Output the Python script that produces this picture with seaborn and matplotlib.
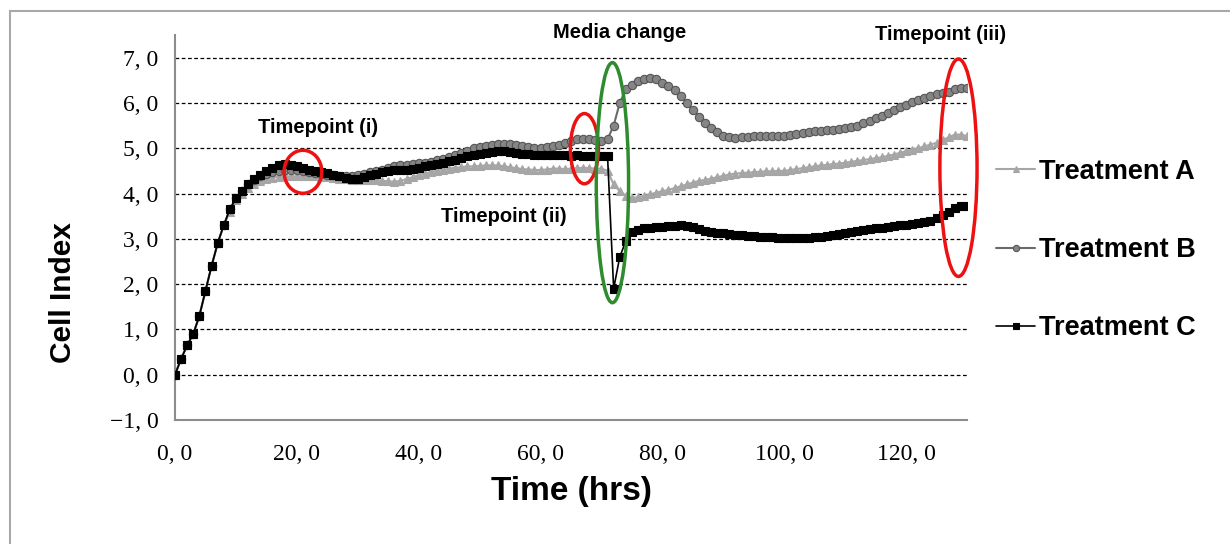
import numpy as np
import pandas as pd
import matplotlib
matplotlib.use("Agg")
import matplotlib.pyplot as plt
import seaborn as sns
from matplotlib.patches import Ellipse, Rectangle
from matplotlib.ticker import FuncFormatter

# ---------------- data ----------------
hours = list(range(0, 131))

treatment_c = [
    0.0, 0.35, 0.65, 0.9, 1.3, 1.85, 2.4, 2.9, 3.3, 3.65,
    3.9, 4.05, 4.2, 4.33, 4.42, 4.5, 4.57, 4.62, 4.65, 4.64,
    4.6, 4.56, 4.52, 4.5, 4.48, 4.45, 4.42, 4.38, 4.34, 4.32,
    4.33, 4.36, 4.4, 4.44, 4.47, 4.5, 4.52, 4.52, 4.53, 4.55,
    4.57, 4.6, 4.62, 4.65, 4.68, 4.72, 4.75, 4.78, 4.82, 4.85,
    4.88, 4.9, 4.92, 4.94, 4.93, 4.92, 4.9, 4.88, 4.87, 4.86,
    4.85, 4.85, 4.84, 4.85, 4.84, 4.83, 4.84, 4.83, 4.82, 4.82,
    4.82, 4.82, 1.9, 2.6, 2.95, 3.15, 3.2, 3.23, 3.25, 3.26,
    3.27, 3.28, 3.29, 3.3, 3.29, 3.26, 3.22, 3.18, 3.15, 3.13,
    3.12, 3.1, 3.09, 3.08, 3.07, 3.06, 3.05, 3.04, 3.03, 3.02,
    3.02, 3.01, 3.01, 3.01, 3.02, 3.03, 3.05, 3.07, 3.09, 3.11,
    3.13, 3.15, 3.17, 3.19, 3.21, 3.23, 3.25, 3.27, 3.29, 3.3,
    3.31, 3.33, 3.35, 3.37, 3.4, 3.45, 3.52, 3.6, 3.68, 3.72,
    3.73,
]

treatment_a = [
    0.0, 0.35, 0.65, 0.9, 1.3, 1.85, 2.4, 2.9, 3.3, 3.6,
    3.85, 4.0, 4.12, 4.2, 4.27, 4.32, 4.35, 4.37, 4.38, 4.38,
    4.38, 4.38, 4.38, 4.38, 4.37, 4.36, 4.35, 4.33, 4.32, 4.3,
    4.3, 4.3, 4.3, 4.3, 4.28, 4.27, 4.26, 4.28, 4.32, 4.36,
    4.4, 4.44, 4.47, 4.5, 4.52, 4.55, 4.57, 4.58, 4.6, 4.6,
    4.61, 4.62, 4.62, 4.62, 4.6, 4.58, 4.56, 4.54, 4.53, 4.52,
    4.52, 4.53, 4.55, 4.55, 4.54, 4.55, 4.56, 4.57, 4.56, 4.55,
    4.55, 4.5, 4.2, 4.05, 3.95, 3.9, 3.92, 3.95, 3.98, 4.02,
    4.05, 4.08, 4.12, 4.16, 4.2, 4.24, 4.28, 4.3, 4.33, 4.36,
    4.39, 4.42, 4.44, 4.45, 4.46, 4.47, 4.48, 4.49, 4.49, 4.5,
    4.5, 4.52, 4.54, 4.56, 4.58, 4.6, 4.62, 4.63, 4.65, 4.66,
    4.68, 4.7, 4.72, 4.74, 4.76, 4.78, 4.8, 4.83, 4.86, 4.9,
    4.93, 4.97, 5.0, 5.04, 5.08, 5.12, 5.18, 5.24, 5.3, 5.3,
    5.27,
]

treatment_b = [
    0.0, 0.35, 0.65, 0.9, 1.3, 1.85, 2.4, 2.9, 3.3, 3.65,
    3.9, 4.05, 4.2, 4.3, 4.38, 4.44, 4.48, 4.5, 4.52, 4.53,
    4.52, 4.5, 4.48, 4.46, 4.44, 4.42, 4.4, 4.38, 4.38, 4.38,
    4.4, 4.43, 4.47, 4.5, 4.53, 4.56, 4.6, 4.62, 4.64, 4.65,
    4.67, 4.68, 4.7, 4.73, 4.76, 4.8, 4.85, 4.9, 4.95, 5.0,
    5.02, 5.05, 5.08, 5.1, 5.1, 5.1, 5.08, 5.05, 5.02, 5.0,
    5.0, 5.02, 5.05, 5.08, 5.12, 5.16, 5.2, 5.2, 5.2, 5.18,
    5.17, 5.2, 5.5, 6.0, 6.3, 6.4, 6.48, 6.52, 6.55, 6.52,
    6.45, 6.38, 6.28, 6.15, 6.0, 5.85, 5.7, 5.55, 5.45, 5.35,
    5.28, 5.25, 5.23, 5.24, 5.25, 5.26, 5.27, 5.28, 5.28, 5.28,
    5.28, 5.3, 5.31, 5.33, 5.35, 5.37, 5.39, 5.4, 5.41, 5.42,
    5.44, 5.47, 5.5, 5.55, 5.6, 5.66, 5.72, 5.78, 5.84, 5.9,
    5.96, 6.02, 6.07, 6.12, 6.16, 6.2, 6.22, 6.25, 6.3, 6.32,
    6.34,
]

series_names = ["Treatment A", "Treatment B", "Treatment C"]
y_ticks = [-1, 0, 1, 2, 3, 4, 5, 6, 7]
x_ticks = [0, 20, 40, 60, 80, 100, 120]

# ---------------- figure ----------------
sns.set_theme(style="white")
plt.rcParams['font.family'] = ['Liberation Sans', 'DejaVu Sans']
plt.rcParams['text.color'] = 'black'
plt.rcParams['axes.labelcolor'] = 'black'
plt.rcParams['xtick.color'] = 'black'
plt.rcParams['ytick.color'] = 'black'

fig = plt.figure(figsize=(12.3, 5.44), dpi=100)
ax = fig.add_axes([175 / 1230, 1 - 420 / 544, (967 - 175) / 1230, (420 - 35) / 544])

df = pd.DataFrame({"hours": hours,
                   "Treatment A": treatment_a,
                   "Treatment B": treatment_b,
                   "Treatment C": treatment_c})

styles = {
    "Treatment A": dict(color="#a6a6a6", marker="^", markersize=5.5, linewidth=1.5,
                        markerfacecolor="#a6a6a6", markeredgecolor="#a6a6a6"),
    "Treatment B": dict(color="#6a6a6a", marker="o", markersize=6, linewidth=1.5,
                        markerfacecolor="#858585", markeredgecolor="#555555"),
    "Treatment C": dict(color="#000000", marker="s", markersize=6, linewidth=1.2,
                        markerfacecolor="#000000", markeredgecolor="#000000"),
}
for name in series_names:
    st = styles[name]
    sns.lineplot(data=df, x="hours", y=name, ax=ax, label=name,
                 markeredgewidth=0.8, zorder=3, **st)

ax.set_xlim(0, 130)
ax.set_ylim(-1, 7.5)
ax.set_yticks(y_ticks)
ax.set_xticks(x_ticks)

fmt = FuncFormatter(lambda v, p: (f"{v:.1f}".replace(".", ", ")).replace("-", "\u2212"))
ax.xaxis.set_major_formatter(fmt)
ax.yaxis.set_major_formatter(fmt)

# grid: dashed black at 0..7
for yv in y_ticks[1:]:
    ax.axhline(yv, color="black", linestyle=(0, (3, 2)), linewidth=0.9, zorder=1)

for s in ["top", "right"]:
    ax.spines[s].set_visible(False)
for s in ["left", "bottom"]:
    ax.spines[s].set_color("#8c8c8c")
    ax.spines[s].set_linewidth(1.5)

ax.tick_params(axis="both", which="major", direction="out", length=7,
               width=1.2, color="#555555", labelsize=17, pad=5)
ax.tick_params(axis="x", pad=10)
for lab in ax.get_xticklabels() + ax.get_yticklabels():
    lab.set_fontfamily(["Liberation Serif", "DejaVu Serif"])

ax.set_xlabel("Time (hrs)", fontsize=24, fontweight="bold", labelpad=8)
ax.set_ylabel("Cell Index", fontsize=21.5, fontweight="bold")
ax.yaxis.set_label_coords(-0.124, 0.332)

# annotations
ann_kw = dict(fontsize=14.5, fontweight="bold", ha="center", va="center", clip_on=False)
ax.text(23.5, 5.45, "Timepoint (i)", **ann_kw)
ax.text(72.9, 7.55, "Media change", **ann_kw)
ax.text(53.9, 3.49, "Timepoint (ii)", **ann_kw)
ax.text(125.6, 7.5, "Timepoint (iii)", **ann_kw)

ell_kw = dict(fill=False, linewidth=2.5, clip_on=False, zorder=5)
ax.add_patch(Ellipse((21.0, 4.48), 6.2, 0.95, edgecolor="#ee1111", **ell_kw))
ax.add_patch(Ellipse((67.2, 4.99), 4.6, 1.55, edgecolor="#ee1111", **ell_kw))
ax.add_patch(Ellipse((71.8, 4.24), 5.3, 5.3, edgecolor="#2e8b2e", **ell_kw))
ax.add_patch(Ellipse((128.6, 4.57), 6.1, 4.8, edgecolor="#ee1111", **ell_kw))

# legend
leg = ax.legend(loc="center left", bbox_to_anchor=(1.0366, 0.4416), frameon=False,
                prop={"weight": "bold", "size": 19.5}, labelspacing=1.93,
                handlelength=1.45, handletextpad=0.15, borderpad=0,
                borderaxespad=0, markerscale=0.75)

# outer border
fig.add_artist(Rectangle((10 / 1230, -0.5), 2.0, 0.5 + 1 - 11 / 544,
                         transform=fig.transFigure, fill=False,
                         edgecolor="#a8a8a8", linewidth=1.5, clip_on=False))

fig.savefig("out.png", dpi=100)
